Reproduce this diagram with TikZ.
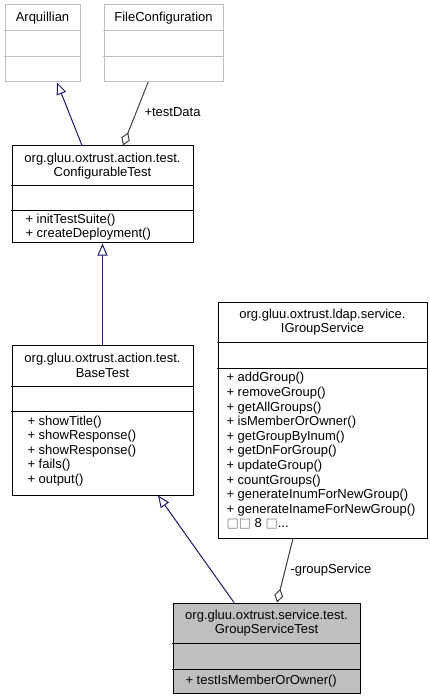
\documentclass[tikz,border=0pt]{standalone}
\usepackage{fontspec}
\setmainfont{Liberation Sans}
\newfontfamily\tofu{DejaVu Sans}
\usetikzlibrary{arrows.meta}
\definecolor{faded}{RGB}{191,191,191}
\definecolor{inhblue}{RGB}{25,25,112}
\definecolor{agggray}{RGB}{64,64,64}
\begin{document}
\begin{tikzpicture}[x=1pt,y=-1pt,line width=1pt,line cap=round,
 every node/.style={font=\fontsize{13}{14.6}\selectfont,inner sep=0pt},
 classbox/.style={draw,rectangle,minimum width=#1},
 members/.style={anchor=west,align=left},
 inh/.style={draw=inhblue,-{Triangle[open,length=12pt,width=10pt]}},
 agg/.style={draw=agggray,{Diamond[open,length=14pt,width=9pt]}-}]
 \useasboundingbox (0,0) rectangle (430,700);
 % classes
 \node[classbox=75,draw=faded,minimum height=77] (arq) at (42.5,43.5) {};
 \node[classbox=119,draw=faded,minimum height=77] (fcfg) at (163.5,43.5) {};
 \node[classbox=181,minimum height=97] (ctest) at (102.5,194.5) {};
 \node[classbox=181,minimum height=150] (btest) at (102.5,420) {};
 \node[classbox=209,minimum height=236] (igs) at (322.5,420) {};
 \node[classbox=187,fill=faded,minimum height=90] (gst) at (266.5,648) {};
 \foreach \n/\a/\b/\c in {arq/31/57/faded, fcfg/31/57/faded, ctest/186/211/black,
 btest/386/411/black, igs/342/368/black, gst/643/669/black}
 \draw[\c] (\n.west |- 0,\a)--(\n.east |- 0,\a) (\n.west |- 0,\b)--(\n.east |- 0,\b);
 % texts
 \node (arqname) at (42.5,18) {Arquillian};
 \node (fcfgname) at (163.5,18) {FileConfiguration};
 \node[align=center] (ctestname) at (102.5,166) {org.gluu.oxtrust.action.test.\\ConfigurableTest};
 \node[members] (ctestops) at (25,227) {+ initTestSuite()\\+ createDeployment()};
 \node[align=center] (btestname) at (102.5,365.5) {org.gluu.oxtrust.action.test.\\BaseTest};
 \node[members] (btestops) at (27,451) {+ showTitle()\\+ showResponse()\\+ showResponse()\\+ fails()\\+ output()};
 \node[align=center] (igsname) at (322.5,322) {org.gluu.oxtrust.ldap.service.\\IGroupService};
 \node[members] (igsops) at (226,451) {+ addGroup()\\+ removeGroup()\\+ getAllGroups()\\+ isMemberOrOwner()\\+ getGroupByInum()\\+ getDnForGroup()\\+ updateGroup()\\+ countGroups()\\+ generateInumForNewGroup()\\+ generateInameForNewGroup()\\{\tofu\color{gray}□□} 8 {\tofu\color{gray}□}...};
 \node[align=center] (gstname) at (266.5,623) {org.gluu.oxtrust.service.test.\\GroupServiceTest};
 \node[members] (gstops) at (185,681) {+ testIsMemberOrOwner()};
 % relations
 \draw[inh] ([xshift=-20.5pt]ctest.north)--([xshift=14.5pt]arq.south);
 \draw[agg] ([xshift=20.5pt]ctest.north)--([xshift=-15.5pt]fcfg.south);
 \draw[inh] (btest.north)--(ctest.south);
 \draw[inh] ([xshift=-32.5pt]gst.north)--([xshift=55.5pt]btest.south);
 \draw[agg] ([xshift=10.5pt]gst.north)--([xshift=-29.5pt]igs.south);
 \node[anchor=west] (tdlabel) at (144,112) {+testData};
 \node[anchor=west] (gslabel) at (290,570) {-groupService};
\end{tikzpicture}
\end{document}
